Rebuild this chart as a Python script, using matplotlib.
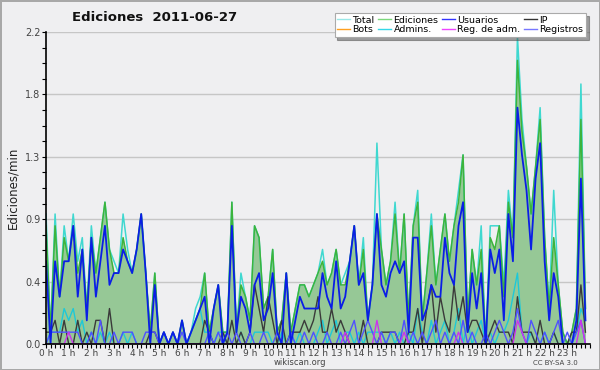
import matplotlib
matplotlib.use("Agg")
import matplotlib.pyplot as plt
from matplotlib.ticker import MultipleLocator, FormatStrFormatter
import numpy as np

# edits per 12-minute slot, 2011-06-27 (120 slots)
total = [11, 1, 11, 4, 10, 7, 11, 7, 9, 3, 10, 6, 9, 12, 8, 7, 6, 11, 8, 6,
         8, 11, 6, 1, 6, 0, 1, 0, 1, 0, 2, 0, 1, 3, 4, 6, 1, 3, 5, 1,
         1, 12, 1, 6, 4, 2, 10, 9, 3, 4, 8, 1, 2, 6, 1, 3, 5, 5, 4, 5,
         6, 8, 5, 6, 8, 5, 6, 7, 10, 5, 9, 2, 5, 17, 8, 5, 7, 12, 6, 11,
         2, 10, 13, 2, 6, 11, 5, 8, 11, 7, 10, 13, 16, 2, 8, 5, 10, 0, 10, 10,
         10, 5, 13, 9, 26, 19, 15, 11, 15, 20, 9, 3, 13, 5, 1, 0, 1, 3, 22, 3]
ediciones = [10, 1, 10, 4, 9, 7, 10, 6, 8, 3, 9, 6, 9, 12, 8, 6, 6, 9, 7, 6,
             8, 11, 6, 1, 6, 0, 1, 0, 1, 0, 2, 0, 1, 2, 3, 6, 1, 3, 5, 1,
             1, 12, 1, 5, 4, 2, 10, 9, 3, 4, 8, 1, 2, 6, 1, 3, 5, 5, 4, 5,
             6, 7, 5, 6, 8, 5, 5, 7, 10, 5, 8, 2, 5, 11, 8, 5, 7, 11, 6, 11,
             2, 10, 12, 2, 6, 10, 5, 8, 11, 7, 10, 12, 16, 2, 8, 5, 8, 0, 9, 8,
             10, 4, 12, 9, 24, 18, 15, 11, 15, 19, 9, 3, 9, 5, 1, 0, 1, 3, 19, 3]
usuarios = [7, 0, 7, 4, 7, 7, 10, 4, 8, 2, 9, 4, 7, 10, 5, 6, 6, 8, 7, 6,
            8, 11, 6, 0, 5, 0, 1, 0, 1, 0, 2, 0, 1, 2, 3, 4, 0, 3, 5, 0,
            1, 10, 1, 4, 3, 1, 5, 6, 2, 3, 6, 1, 0, 6, 0, 2, 4, 3, 3, 3,
            3, 6, 4, 3, 7, 3, 4, 7, 10, 5, 6, 2, 5, 11, 5, 4, 6, 7, 6, 7,
            1, 9, 9, 2, 3, 5, 4, 4, 9, 6, 5, 10, 12, 1, 6, 3, 6, 0, 8, 6,
            8, 2, 11, 7, 20, 16, 13, 8, 14, 17, 7, 2, 6, 4, 0, 0, 0, 2, 14, 2]
ip = [1, 1, 2, 0, 2, 0, 0, 2, 0, 1, 0, 2, 2, 0, 3, 0, 0, 0, 0, 0,
      0, 0, 0, 1, 1, 0, 0, 0, 0, 0, 0, 0, 0, 0, 0, 2, 1, 0, 0, 1,
      0, 2, 0, 1, 0, 1, 5, 3, 1, 4, 2, 0, 2, 0, 1, 1, 1, 2, 1, 2,
      4, 1, 1, 3, 1, 2, 1, 0, 0, 0, 2, 0, 0, 0, 1, 1, 1, 1, 0, 0,
      1, 1, 3, 0, 3, 5, 1, 4, 2, 1, 5, 2, 4, 1, 2, 2, 1, 0, 1, 2,
      1, 1, 1, 0, 4, 1, 1, 1, 0, 2, 0, 0, 1, 0, 0, 0, 1, 1, 5, 1]
admins = [0, 1, 1, 1, 3, 2, 3, 1, 2, 0, 1, 0, 1, 0, 1, 0, 0, 1, 0, 1,
          0, 0, 0, 0, 0, 0, 0, 0, 0, 0, 0, 0, 1, 2, 3, 1, 1, 0, 1, 1,
          0, 0, 0, 1, 0, 0, 1, 1, 1, 1, 0, 0, 1, 0, 1, 0, 1, 0, 0, 0,
          1, 2, 0, 1, 2, 0, 1, 1, 0, 1, 0, 1, 1, 1, 1, 0, 1, 0, 1, 0,
          1, 0, 3, 1, 0, 2, 0, 1, 2, 0, 1, 3, 0, 2, 0, 1, 2, 0, 1, 0,
          1, 1, 2, 4, 6, 1, 0, 1, 0, 0, 1, 0, 1, 0, 0, 0, 0, 1, 3, 2]
registros = [0, 1, 1, 1, 1, 1, 1, 1, 0, 0, 1, 0, 2, 0, 0, 1, 0, 1, 1, 1,
             0, 0, 1, 1, 1, 0, 1, 0, 1, 0, 1, 0, 0, 0, 0, 0, 1, 0, 1, 0,
             1, 0, 1, 0, 0, 1, 0, 0, 1, 0, 0, 1, 0, 0, 1, 0, 0, 1, 0, 1,
             0, 0, 1, 0, 0, 1, 0, 1, 2, 0, 1, 2, 1, 0, 1, 0, 1, 1, 0, 2,
             0, 1, 0, 1, 0, 1, 2, 0, 1, 0, 1, 0, 2, 0, 1, 0, 0, 1, 0, 1,
             2, 1, 0, 1, 3, 1, 0, 2, 1, 0, 1, 0, 1, 2, 0, 1, 0, 1, 2, 0]
reg_adm = [0, 0, 0, 0, 0, 1, 0, 0, 0, 0, 0, 0, 0, 0, 0, 0, 0, 0, 0, 0,
           0, 0, 0, 0, 0, 0, 0, 0, 0, 0, 0, 0, 0, 0, 0, 0, 0, 0, 0, 0,
           0, 0, 0, 0, 0, 0, 0, 0, 0, 0, 0, 0, 0, 0, 0, 0, 0, 0, 0, 0,
           0, 0, 0, 0, 0, 0, 1, 0, 0, 0, 0, 0, 0, 2, 0, 0, 0, 0, 0, 1,
           0, 0, 0, 0, 0, 0, 0, 0, 0, 0, 0, 1, 0, 0, 0, 0, 0, 0, 0, 0,
           0, 0, 0, 0, 2, 1, 0, 0, 0, 0, 0, 0, 0, 0, 0, 0, 0, 0, 2, 0]
hour_labels = ["%d h" % h for h in range(24)]
slot_min = 12

hours = np.arange(len(ediciones)) * slot_min / 60.0
per_min = lambda s: np.array(s) / slot_min

bg = "#efeff1"
fig = plt.figure(figsize=(6, 3.7), dpi=100, facecolor=bg)
fig.patch.set_edgecolor("#a8a8a8")
fig.patch.set_linewidth(2)
ax = fig.add_axes([0.0767, 0.0703, 0.9066, 0.8432], facecolor=bg)

ax.fill_between(hours, per_min(ediciones), color="#96c896", lw=0)
ax.plot(hours, per_min(total), color="#3fd8d0", lw=1.1)
ax.plot(hours, per_min(ediciones), color="#3cb43c", lw=1.1)
ax.plot(hours, per_min(admins), color="#1ec8d8", lw=1.0)
ax.plot(hours, per_min(ip), color="#3a3a3a", lw=1.0)
ax.plot(hours, per_min(registros), color="#5050ff", lw=1.0)
ax.plot(hours, per_min(reg_adm), color="#cc33ee", lw=1.0)
ax.plot(hours, per_min(usuarios), color="#0a1ee6", lw=1.3)

ax.set_xlim(0, 24)
ax.set_ylim(0, 2.2)
ax.set_yticks(np.arange(6) * 0.44)
ax.yaxis.set_major_formatter(FormatStrFormatter("%.1f"))
ax.yaxis.set_minor_locator(MultipleLocator(0.11))
ax.set_xticks(range(24))
ax.set_xticklabels(hour_labels)
ax.xaxis.set_minor_locator(MultipleLocator(0.2))
ax.tick_params(axis="both", which="both", direction="out", length=3, width=0.8,
               colors="black", labelcolor="#444444", pad=1)
ax.tick_params(axis="y", labelsize=7)
ax.tick_params(axis="x", labelsize=6.5, pad=0.5)
ax.grid(axis="y", color="#c6c6c6", lw=1)
ax.set_axisbelow(True)
for s in ["top", "right"]:
    ax.spines[s].set_visible(False)
ax.spines["left"].set_linewidth(1.2)
ax.spines["bottom"].set_linewidth(1.2)
ax.set_ylabel("Ediciones/min", fontsize=8.5, labelpad=4, color="#222222")

# legend (column-wise order so rows read Total, Ediciones, Usuarios, IP / Bots, ...)
h_total, = ax.plot([], [], color="#99e8e8", lw=1)
h_bots, = ax.plot([], [], color="#ffa020", lw=1)
h_edic, = ax.plot([], [], color="#7cd87c", lw=1)
h_adm, = ax.plot([], [], color="#33d8e8", lw=1)
h_usu, = ax.plot([], [], color="#3333ff", lw=1)
h_reg, = ax.plot([], [], color="#ee44ff", lw=1)
h_ip, = ax.plot([], [], color="#333333", lw=1)
h_regs, = ax.plot([], [], color="#7777ff", lw=1)
leg = fig.legend([h_total, h_bots, h_edic, h_adm, h_usu, h_reg, h_ip, h_regs],
                 ["Total", "Bots", "Ediciones", "Admins.", "Usuarios", "Reg. de adm.", "IP", "Registros"],
                 ncol=4, loc="upper right", bbox_to_anchor=(0.985, 0.978),
                 fontsize=6.8, frameon=True, fancybox=False, shadow=True,
                 handlelength=1.3, handletextpad=0.3, columnspacing=0.4,
                 labelspacing=0.05, borderpad=0.3)
leg.get_frame().set_edgecolor("#aaaaaa")
leg.get_frame().set_linewidth(0.8)

fig.text(0.258, 0.953, "Ediciones  2011-06-27", ha="center", va="center",
         fontsize=9.5, fontweight="bold", color="#111111")
fig.text(0.5, 0.02, "wikiscan.org", ha="center", va="center", fontsize=6, color="#444444")
fig.text(0.925, 0.02, "CC BY-SA 3.0", ha="center", va="center", fontsize=5, color="#444444")

fig.savefig("out.png", dpi=100, facecolor=bg, edgecolor=fig.patch.get_edgecolor())
